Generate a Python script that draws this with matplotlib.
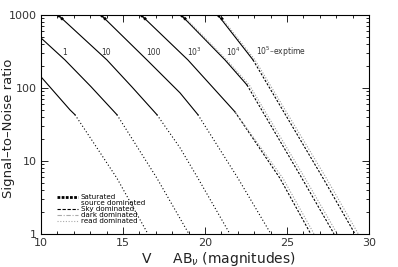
import matplotlib
matplotlib.use("Agg")
import matplotlib.pyplot as plt
from matplotlib.lines import Line2D
from matplotlib.ticker import MultipleLocator, FixedLocator, NullFormatter

plt.rcParams["font.family"] = ["DejaVu Sans"]

# bright (source dominated) part of each curve: magnitude, S/N
src_mag = {
    "0.1": [10.0, 11.77, 12.07],
    "1": [10.0, 11.46, 13.05, 14.63],
    "10": [11.04, 14.02, 15.55, 17.07],
    "100": [13.66, 16.46, 18.48, 19.57],
    "1e3": [16.10, 18.96, 21.83],
    "1e4": [18.54, 21.22, 22.56],
    "1e5": [20.79, 22.93],
}
src_sn = {
    "0.1": [142, 50, 43],
    "1": [484, 242, 104, 43],
    "10": [1000, 242, 103, 43],
    "100": [1000, 242, 85.5, 43],
    "1e3": [1000, 242, 47],
    "1e4": [1000, 242, 110],
    "1e5": [1000, 242],
}

# faint part, read-noise dominated (short exposures)
read_mag = {
    "0.1": [12.07, 12.99, 14.63, 16.52],
    "1": [14.63, 17.07, 19.02],
    "10": [17.07, 18.48, 19.57, 21.52],
    "100": [19.57, 22.01, 24.02],
}
read_sn = {
    "0.1": [43, 21, 5.8, 1.0],
    "1": [43, 5.8, 1.0],
    "10": [43, 15.1, 5.8, 1.0],
    "100": [43, 5.8, 1.0],
}

# faint part, sky dominated (long exposures)
sky_mag = {
    "1e3": [21.83, 24.57, 26.45],
    "1e4": [22.56, 25.91, 27.87],
    "1e5": [22.93, 27.20, 29.15],
}
sky_sn = {
    "1e3": [47, 5.8, 1.0],
    "1e4": [110, 5.8, 1.0],
    "1e5": [242, 5.8, 1.0],
}

# companion (dark dominated) curves for long exposures
dark_mag = {
    "1e3": [21.83, 24.75, 26.65],
    "1e4": [18.62, 21.32, 22.70, 26.10, 28.07],
    "1e5": [20.87, 23.05, 27.40, 29.35],
}
dark_sn = {
    "1e3": [47, 5.8, 1.0],
    "1e4": [1000, 242, 110, 5.8, 1.0],
    "1e5": [1000, 242, 5.8, 1.0],
}

# saturation marks at the top of the curves
sat_mag = [[11.04, 11.34], [13.66, 13.96], [16.10, 16.40], [18.54, 18.84], [20.79, 21.09]]
sat_sn = [[1000, 865], [1000, 865], [1000, 865], [1000, 865], [1000, 865]]

curve_labels = ["1", "10", "100", "10$^3$", "10$^4$", "10$^5$\u2013exptime"]
label_mag = [11.3, 13.7, 16.4, 18.9, 21.3, 23.1]
label_sn = [310, 310, 310, 310, 310, 310]


def main() -> None:
    fig = plt.figure(figsize=(3.98, 2.67), dpi=100)
    ax = fig.add_axes([0.103, 0.124, 0.824, 0.820])

    for k in src_mag:
        ax.plot(src_mag[k], src_sn[k], color="black", lw=0.8, ls="-")
    for k in read_mag:
        ax.plot(read_mag[k], read_sn[k], color="black", lw=0.8, ls=(0, (1, 2)))
    for k in sky_mag:
        ax.plot(sky_mag[k], sky_sn[k], color="black", lw=0.8, ls=(0, (2, 1.5)))
    for k in dark_mag:
        ax.plot(dark_mag[k], dark_sn[k], color="#999999", lw=0.8, ls=(0, (1, 1.5)))
    for m, s in zip(sat_mag, sat_sn):
        ax.plot(m, s, color="black", lw=2.0, ls=(0, (1, 0.5)))

    for txt, m, s in zip(curve_labels, label_mag, label_sn):
        ax.text(m, s, txt, fontsize=5.5, ha="left", va="center", color="#333333")

    ax.set_yscale("log")
    ax.set_xlim(10, 30)
    ax.set_ylim(1, 1000)
    ax.xaxis.set_major_locator(MultipleLocator(5))
    ax.xaxis.set_minor_locator(MultipleLocator(1))
    ax.yaxis.set_major_locator(FixedLocator([1, 10, 100, 1000]))
    ax.set_yticklabels(["1", "10", "100", "1000"])
    ax.yaxis.set_minor_formatter(NullFormatter())
    ax.tick_params(which="both", direction="in", top=True, right=True,
                   labelsize=8, width=0.6, labelcolor="#333333")
    ax.tick_params(which="major", length=5, pad=3)
    ax.tick_params(which="minor", length=2.5)
    for sp in ax.spines.values():
        sp.set_linewidth(0.8)

    ax.set_xlabel("V     AB$_\\nu$ (magnitudes)", fontsize=10, color="#222222")
    ax.set_ylabel("Signal\u2013to\u2013Noise ratio", fontsize=9.5, color="#222222")
    ax.xaxis.set_label_coords(0.54, -0.075, transform=ax.transAxes)
    ax.yaxis.set_label_coords(-0.1, 0.48, transform=ax.transAxes)
    ax.xaxis.label.set_va("top")
    ax.yaxis.label.set_va("center")

    handles = [
        Line2D([], [], color="black", lw=2.0, ls=(0, (1, 0.5))),
        Line2D([], [], color="none", lw=0.8),
        Line2D([], [], color="black", lw=0.8, ls=(0, (3, 1.5))),
        Line2D([], [], color="#aaaaaa", lw=0.8, ls=(0, (4, 1.5, 1, 1.5))),
        Line2D([], [], color="#aaaaaa", lw=0.8, ls=(0, (1, 1.5))),
    ]
    names = ["Saturated", "source dominated", "Sky dominated",
             "dark dominated", "read dominated"]
    ax.legend(handles, names, loc="lower left", bbox_to_anchor=(0.035, 0.025),
              fontsize=5.1, frameon=False, handlelength=3.0, handletextpad=0.4,
              labelspacing=0.0, borderpad=0.1)

    fig.savefig("out.png", dpi=100)


if __name__ == "__main__":
    main()
